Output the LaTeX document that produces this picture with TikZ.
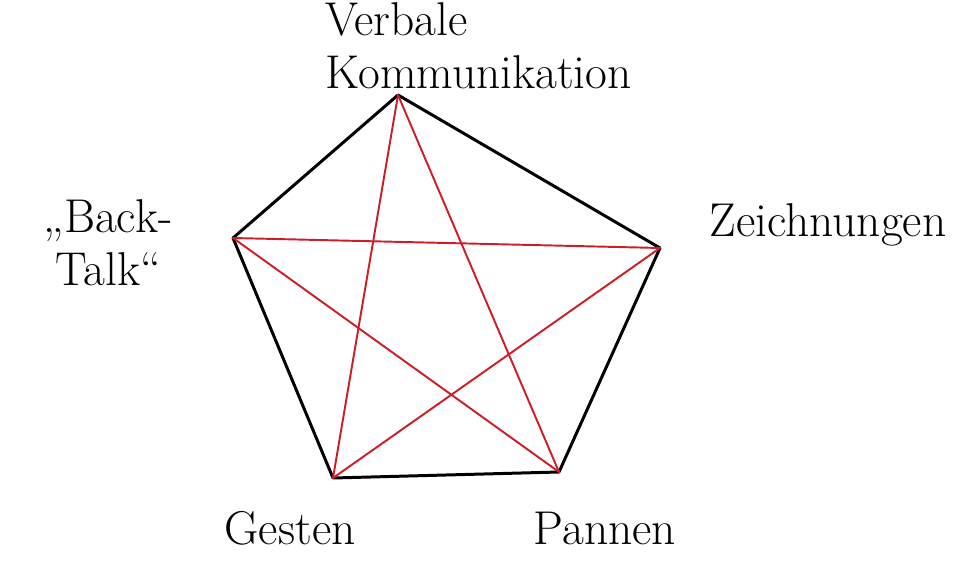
\documentclass[tikz,border=0pt]{standalone}
\usepackage{tikz}
\usetikzlibrary{positioning}
\definecolor{sternrot}{RGB}{205,30,40}
\tikzset{
  ecke/.style    = {coordinate},
  rand/.style    = {draw=black, line width=1.7pt, line join=round, line cap=round},
  stern/.style   = {draw=sternrot, line width=1.1pt, line cap=round},
  beschr/.style  = {font=\fontsize{27}{30}\selectfont, inner sep=0pt},
}

\begin{document}
\begin{tikzpicture}[x=0.02cm, y=-0.02cm]
  \useasboundingbox (0,0) rectangle (977,581);
  % Ecken des Fuenfecks
  \node[ecke] (vk) at (398,95) {};
  \node[ecke] (zn) at (660,248) {};
  \node[ecke] (pa) at (559,472) {};
  \node[ecke] (ge) at (333,478) {};
  \node[ecke] (bt) at (233,238) {};
  \draw[rand] (vk) -- (zn) -- (pa) -- (ge) -- (bt) -- cycle;
  % Pentagramm
  \draw[stern] (vk) -- (ge);
  \draw[stern] (vk) -- (pa);
  \draw[stern] (bt) -- (zn);
  \draw[stern] (bt) -- (pa);
  \draw[stern] (zn) -- (ge);
  % Beschriftungen
  \node[beschr, align=left, anchor=west] (lvk) at (325,46) {Verbale\\Kommunikation};
  \node[beschr, align=center] (lbt) at (108,243) {\char"201E Back-\\Talk\char"201C};
  \node[beschr] (lzn) at (828,225) {Zeichnungen};
  \node[beschr] (lge) at (290,528) {Gesten};
  \node[beschr] (lpa) at (605,528) {Pannen};
\end{tikzpicture}
\end{document}
